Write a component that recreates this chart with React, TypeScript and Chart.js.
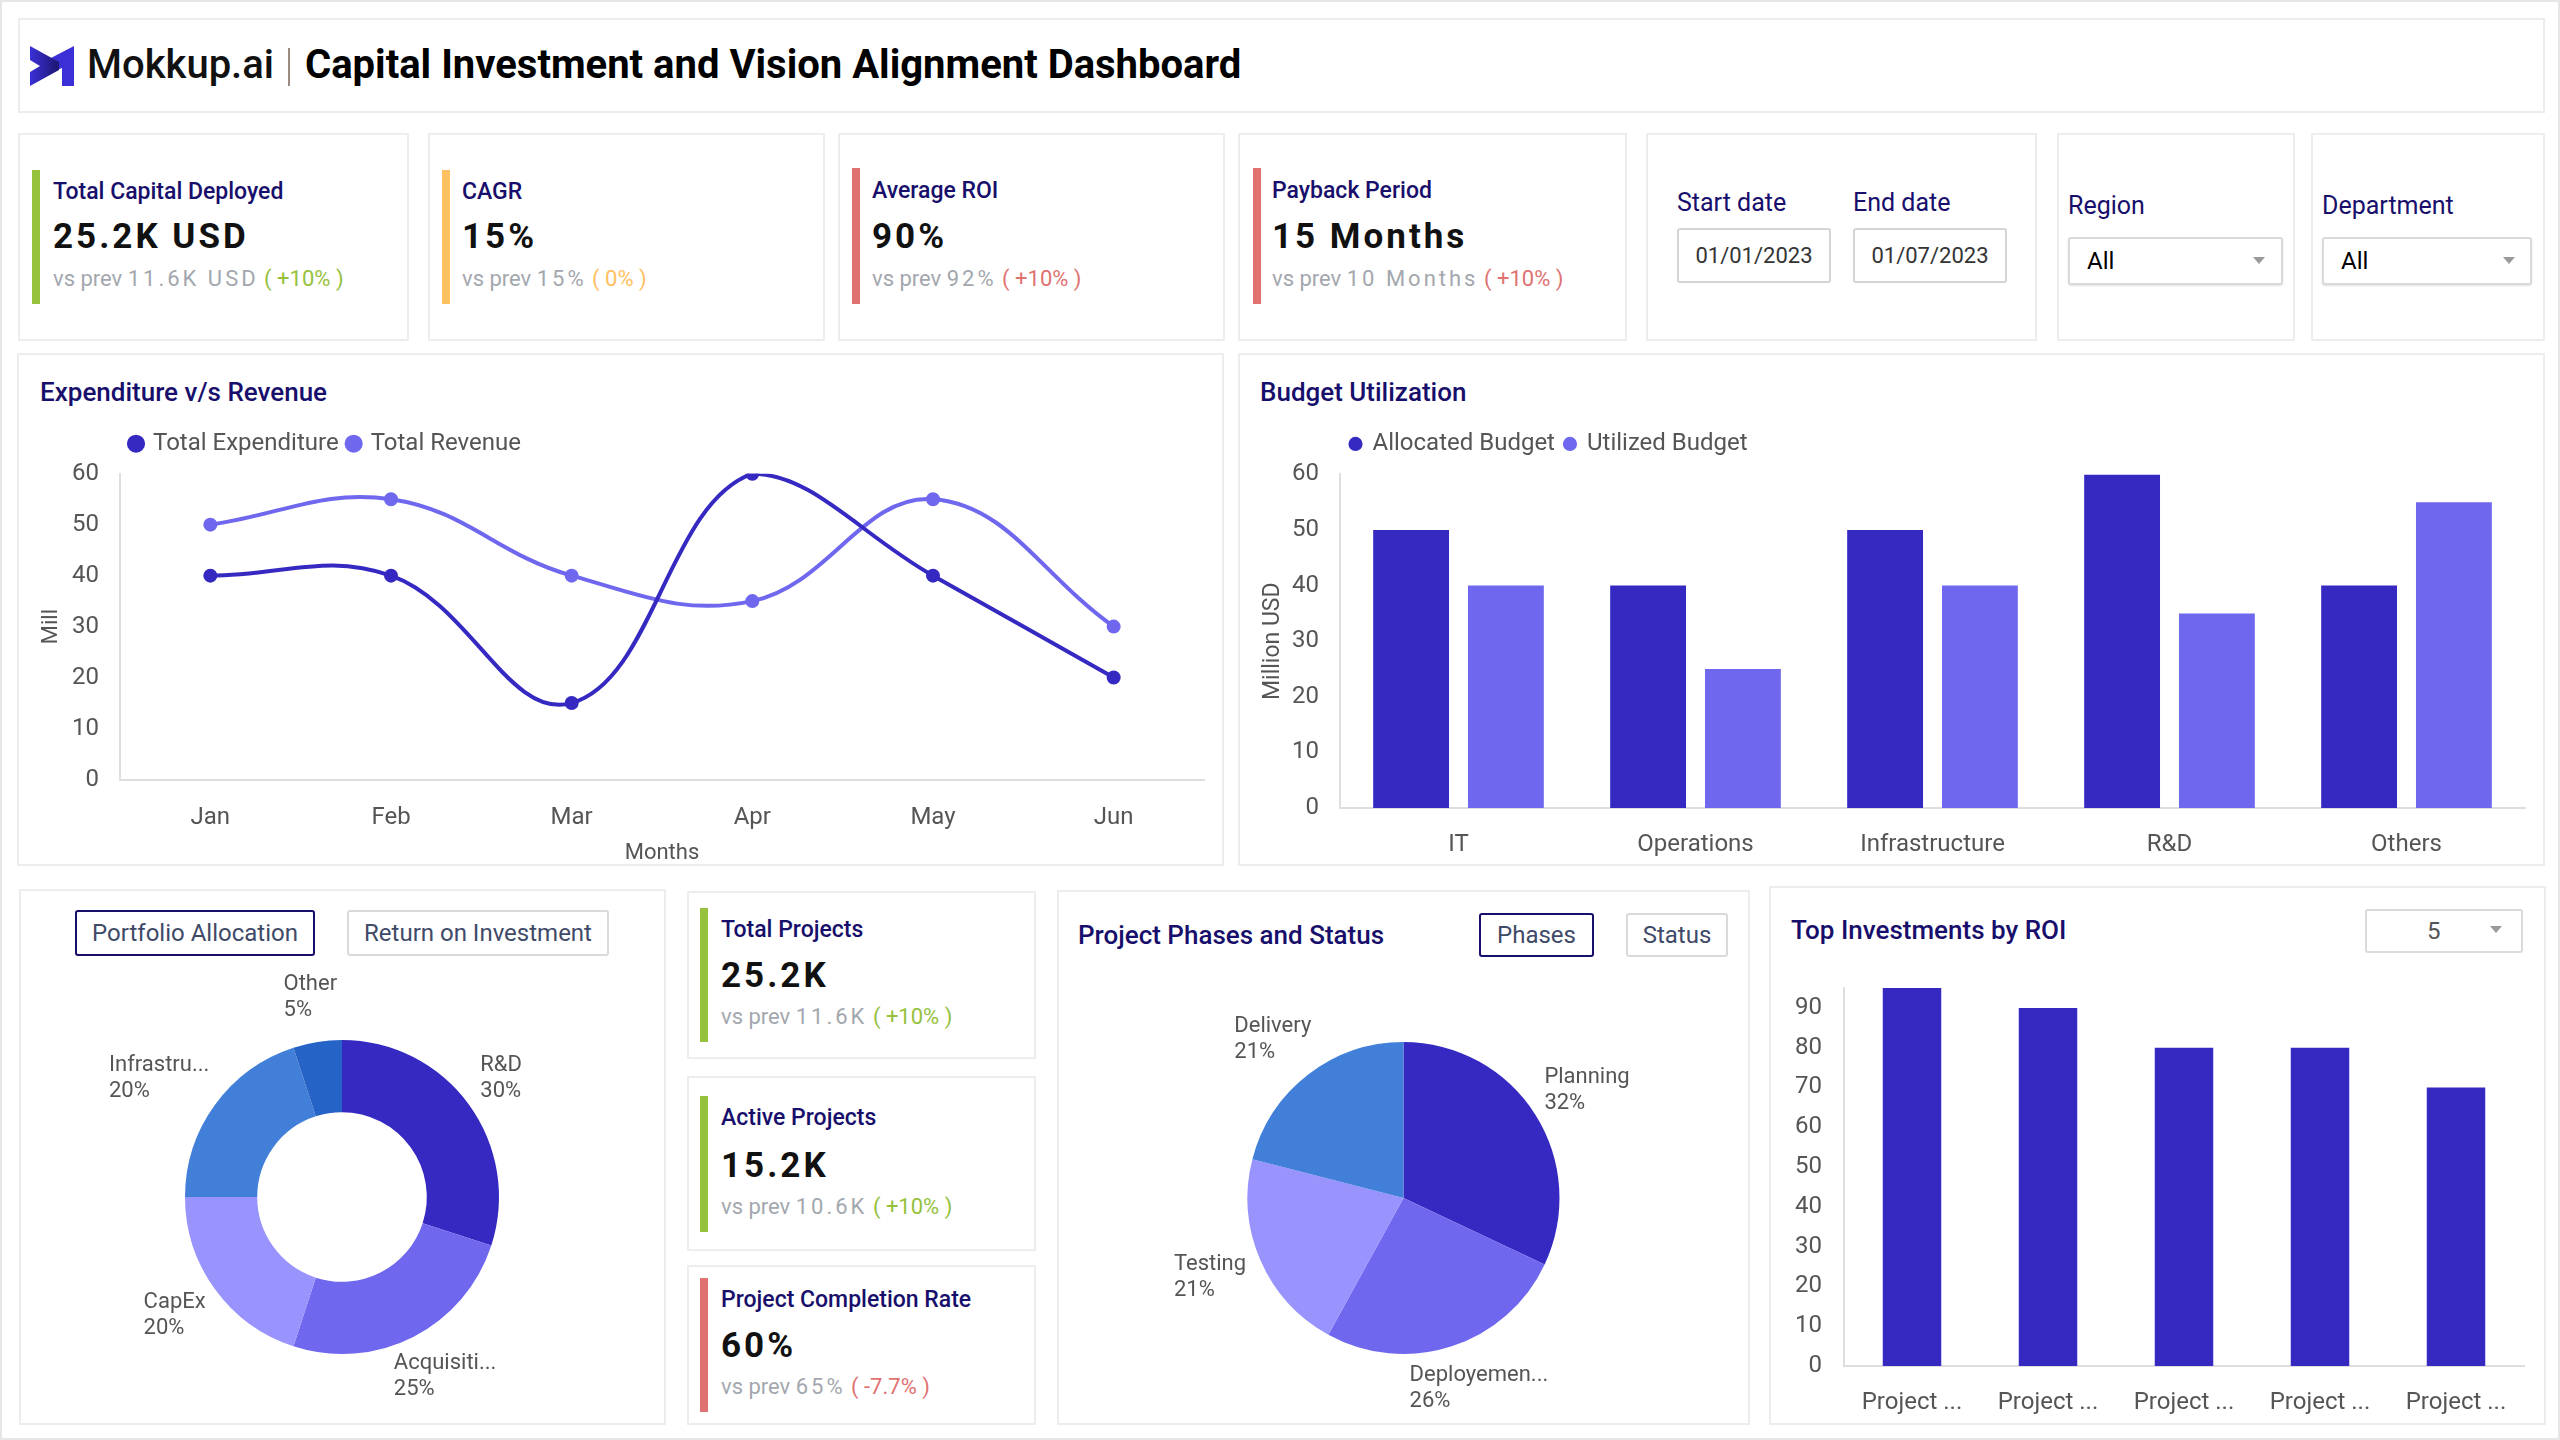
import React, { useEffect, useRef } from 'react';
import { Chart, registerables } from 'chart.js';

Chart.register(...registerables);
Chart.defaults.font.family = 'Roboto';
Chart.defaults.color = '#555555';

// ---------------- data ----------------
const months = ['Jan', 'Feb', 'Mar', 'Apr', 'May', 'Jun'];
const totalExpenditure = [40, 40, 15, 60, 40, 20];
const totalRevenue = [50, 55, 40, 35, 55, 30];

const departments = ['IT', 'Operations', 'Infrastructure', 'R&D', 'Others'];
const allocatedBudget = [50, 40, 50, 60, 40];
const utilizedBudget = [40, 25, 40, 35, 55];

const portfolioLabels = ['R&D', 'Acquisiti...', 'CapEx', 'Infrastru...', 'Other'];
const portfolioShares = [30, 25, 20, 20, 5];

const phaseLabels = ['Planning', 'Deployemen...', 'Testing', 'Delivery'];
const phaseShares = [32, 26, 21, 21];

const projectLabels = ['Project ...', 'Project ...', 'Project ...', 'Project ...', 'Project ...'];
const projectRoi = [95, 90, 80, 80, 70];

// ---------------- style ----------------
const C1 = '#3529C1';
const C2 = '#6F67EE';
const C3 = '#9893FD';
const C4 = '#427FD9';
const C5 = '#2563C6';
const NAVY = '#170F6B';
const GRAY = '#555555';
const AXIS = '#DEDEDE';
const GREEN = '#95C13D';
const ORANGE = '#FFC061';
const RED = '#E07272';
const SUB = '#A3A7AE';

const legendShift = {
  id: 'legendShift',
  afterLayout(chart: any, _args: any, opts: any) {
    const l = chart.legend;
    if (!l || !opts) return;
    const dx = opts.dx || 0;
    const dy = opts.dy || 0;
    l.left += dx;
    l.right += dx;
    l.top -= dy;
    l.bottom -= dy;
  },
};

const outsideLabels = {
  id: 'outsideLabels',
  afterDatasetsDraw(chart: any, _args: any, opts: any) {
    const ctx = chart.ctx;
    const meta = chart.getDatasetMeta(0);
    const data = chart.data.datasets[0].data as number[];
    const total = data.reduce((a: number, b: number) => a + b, 0);
    const lh = opts.lineHeight || 26;
    const f = opts.factor || 1.12;
    ctx.save();
    ctx.font = `${opts.size || 22}px Roboto`;
    ctx.fillStyle = opts.color || GRAY;
    ctx.textBaseline = 'middle';
    ctx.textAlign = 'left';
    meta.data.forEach((arc: any, i: number) => {
      const p = arc.getProps(['x', 'y', 'startAngle', 'endAngle', 'outerRadius'], true);
      const mid = (p.startAngle + p.endAngle) / 2;
      const dx = Math.cos(mid);
      const dy = Math.sin(mid);
      const name = String(chart.data.labels[i]);
      const pct = Math.round((data[i] / total) * 100) + '%';
      const w = Math.max(ctx.measureText(name).width, ctx.measureText(pct).width);
      const px = p.x + dx * p.outerRadius * f;
      const py = p.y + dy * p.outerRadius * f;
      const left = px - (w * (1 - dx)) / 2;
      const top = py - (2 * lh * (1 - dy)) / 2;
      ctx.fillText(name, left, top + lh / 2);
      ctx.fillText(pct, left, top + lh * 1.5);
    });
    ctx.restore();
  },
};

const tickFont = { size: 24 };
const noGrid = { display: false, drawTicks: false };
const axisBorder = { display: true, color: AXIS, width: 2 };
const keepTens = (s: any) => {
  s.ticks = s.ticks.filter((t: any) => t.value % 10 === 0);
};
const fixWidth = (w: number) => (s: any) => {
  s.width = w;
  s.paddingTop = 0;
  s.paddingBottom = 0;
};
const fixHeight = (h: number) => (s: any) => {
  s.height = h;
};

const lineConfig = (): any => ({
  type: 'line',
  data: {
    labels: months,
    datasets: [
      {
        label: 'Total Expenditure',
        data: totalExpenditure,
        borderColor: C1,
        backgroundColor: C1,
        pointBackgroundColor: C1,
        pointBorderColor: C1,
        borderWidth: 4,
        pointRadius: 5,
        tension: 0.4,
      },
      {
        label: 'Total Revenue',
        data: totalRevenue,
        borderColor: C2,
        backgroundColor: C2,
        pointBackgroundColor: C2,
        pointBorderColor: C2,
        borderWidth: 4,
        pointRadius: 5,
        tension: 0.4,
      },
    ],
  },
  options: {
    responsive: false,
    animation: false,
    layout: { padding: { left: 14, right: 20, top: 10.7, bottom: 0 } },
    plugins: {
      legend: {
        position: 'top',
        align: 'start',
        labels: { usePointStyle: true, pointStyle: 'circle', boxWidth: 10, boxHeight: 10, padding: 10, color: GRAY, font: { size: 24 } },
      },
      tooltip: { enabled: false },
      legendShift: { dx: 87, dy: 8 },
    },
    scales: {
      x: {
        offset: true,
        grid: noGrid,
        border: axisBorder,
        ticks: { padding: 24, color: GRAY, font: tickFont },
        title: { display: true, text: 'Months', color: GRAY, font: { size: 22 }, padding: { top: 6, bottom: 2 } },
        afterFit: fixHeight(89.5),
      },
      y: {
        min: 0,
        max: 60,
        grid: noGrid,
        border: axisBorder,
        ticks: { stepSize: 10, padding: 21, color: GRAY, font: tickFont },
        title: { display: true, text: 'Mill', color: GRAY, font: { size: 22 }, padding: { top: 4, bottom: 4 } },
        afterBuildTicks: keepTens,
        afterFit: fixWidth(86),
      },
    },
  },
  plugins: [legendShift],
});

const budgetConfig = (): any => ({
  type: 'bar',
  data: {
    labels: departments,
    datasets: [
      { label: 'Allocated Budget', data: allocatedBudget, backgroundColor: C1, borderWidth: 0, categoryPercentage: 0.8, barPercentage: 0.8 },
      { label: 'Utilized Budget', data: utilizedBudget, backgroundColor: C2, borderWidth: 0, categoryPercentage: 0.8, barPercentage: 0.8 },
    ],
  },
  options: {
    responsive: false,
    animation: false,
    layout: { padding: { left: 14, right: 18, top: 11.4, bottom: 0 } },
    plugins: {
      legend: {
        position: 'top',
        align: 'start',
        labels: { usePointStyle: true, pointStyle: 'circle', boxWidth: 10, boxHeight: 10, padding: 10, color: GRAY, font: { size: 24 } },
      },
      tooltip: { enabled: false },
      legendShift: { dx: 85.5, dy: 8.5 },
    },
    scales: {
      x: {
        grid: noGrid,
        border: axisBorder,
        ticks: { padding: 23, color: GRAY, font: tickFont },
        afterFit: fixHeight(53),
      },
      y: {
        min: 0,
        max: 60,
        grid: noGrid,
        border: axisBorder,
        ticks: { stepSize: 10, padding: 21, color: GRAY, font: tickFont },
        title: { display: true, text: 'Million USD', color: GRAY, font: { size: 23 }, padding: { top: 4, bottom: 4 } },
        afterBuildTicks: keepTens,
        afterFit: fixWidth(85),
      },
    },
  },
  plugins: [legendShift],
});

const roiConfig = (): any => ({
  type: 'bar',
  data: {
    labels: projectLabels,
    datasets: [
      { label: 'ROI', data: projectRoi, backgroundColor: C1, borderWidth: 0, categoryPercentage: 1, barPercentage: 0.43 },
    ],
  },
  options: {
    responsive: false,
    animation: false,
    layout: { padding: { left: 0, right: 20, top: 13, bottom: 0 } },
    plugins: { legend: { display: false }, tooltip: { enabled: false } },
    scales: {
      x: {
        grid: noGrid,
        border: axisBorder,
        ticks: { padding: 23, color: GRAY, font: tickFont, autoSkip: false, maxRotation: 0 },
        afterFit: fixHeight(53),
      },
      y: {
        min: 0,
        max: 95,
        grid: noGrid,
        border: axisBorder,
        ticks: { stepSize: 10, padding: 22, color: GRAY, font: tickFont, includeBounds: false },
        afterBuildTicks: keepTens,
        afterFit: fixWidth(74),
      },
    },
  },
});

const donutConfig = (): any => ({
  type: 'doughnut',
  data: {
    labels: portfolioLabels,
    datasets: [{ data: portfolioShares, backgroundColor: [C1, C2, C3, C4, C5], borderWidth: 0 }],
  },
  options: {
    responsive: false,
    animation: false,
    radius: 157,
    cutout: '54%',
    plugins: {
      legend: { display: false },
      tooltip: { enabled: false },
      outsideLabels: { size: 22, lineHeight: 26, color: GRAY, factor: 1.12 },
    },
  },
  plugins: [outsideLabels],
});

const pieConfig = (): any => ({
  type: 'pie',
  data: {
    labels: phaseLabels,
    datasets: [{ data: phaseShares, backgroundColor: [C1, C2, C3, C4], borderWidth: 0 }],
  },
  options: {
    responsive: false,
    animation: false,
    radius: 156,
    plugins: {
      legend: { display: false },
      tooltip: { enabled: false },
      outsideLabels: { size: 22, lineHeight: 26, color: GRAY, factor: 1.12 },
    },
  },
  plugins: [outsideLabels],
});

// ---------------- components ----------------
function ChartBox(props: { left: number; top: number; width: number; height: number; config: () => any }) {
  const ref = useRef<HTMLCanvasElement>(null);
  useEffect(() => {
    const chart = new Chart(ref.current as HTMLCanvasElement, props.config());
    return () => chart.destroy();
  }, []);
  return (
    <canvas
      ref={ref}
      width={props.width}
      height={props.height}
      style={{ position: 'absolute', left: props.left, top: props.top, width: props.width, height: props.height }}
    />
  );
}

function Card(props: { x: number; y: number; w: number; h: number }) {
  return (
    <div
      style={{
        position: 'absolute',
        left: props.x,
        top: props.y,
        width: props.w,
        height: props.h,
        border: '2px solid #EDEDED',
        boxSizing: 'border-box',
        background: '#fff',
      }}
    />
  );
}

function Txt(props: {
  x: number;
  cy: number;
  size: number;
  weight?: number;
  color?: string;
  ls?: number;
  children: any;
}) {
  const lh = Math.round(props.size * 1.2);
  return (
    <div
      style={{
        position: 'absolute',
        left: props.x,
        top: props.cy - lh / 2,
        fontSize: props.size,
        lineHeight: lh + 'px',
        fontWeight: props.weight || 400,
        color: props.color || '#111',
        letterSpacing: props.ls || 0,
        whiteSpace: 'nowrap',
      }}
    >
      {props.children}
    </div>
  );
}

function Bar(props: { x: number; y: number; h: number; color: string }) {
  return <div style={{ position: 'absolute', left: props.x, top: props.y, width: 8, height: props.h, background: props.color }} />;
}

function Sub(props: { x: number; cy: number; prev: string; delta: string; color: string }) {
  return (
    <Txt x={props.x} cy={props.cy} size={22} color={SUB}>
      vs prev <span style={{ letterSpacing: 3 }}>{props.prev}</span>{' '}
      <span style={{ color: props.color }}>( {props.delta} )</span>
    </Txt>
  );
}

function Kpi(props: {
  x: number; y: number; w: number; h: number;
  barX: number; barY: number; barH: number; color: string;
  tx: number; tY: number; vY: number; sY: number;
  title: string; value: string; prev: string; delta: string;
}) {
  return (
    <>
      <Card x={props.x} y={props.y} w={props.w} h={props.h} />
      <Bar x={props.barX} y={props.barY} h={props.barH} color={props.color} />
      <Txt x={props.tx} cy={props.tY} size={23} weight={500} color={NAVY}>{props.title}</Txt>
      <Txt x={props.tx} cy={props.vY} size={35} weight={700} color="#111" ls={3}>{props.value}</Txt>
      <Sub x={props.tx} cy={props.sY} prev={props.prev} delta={props.delta} color={props.color} />
    </>
  );
}

function Box(props: { x: number; y: number; w: number; h: number; color?: string; shadow?: boolean; children?: any }) {
  return (
    <div
      style={{
        position: 'absolute',
        left: props.x,
        top: props.y,
        width: props.w,
        height: props.h,
        boxSizing: 'border-box',
        border: `2px solid ${props.color || '#DADADA'}`,
        borderRadius: 3,
        background: '#fff',
        boxShadow: props.shadow ? '0 1px 2px rgba(0,0,0,0.12)' : undefined,
      }}
    >
      {props.children}
    </div>
  );
}

function Button(props: { x: number; y: number; w: number; h: number; active?: boolean; label: string }) {
  return (
    <Box x={props.x} y={props.y} w={props.w} h={props.h} color={props.active ? NAVY : '#DADADA'}>
      <div
        style={{
          width: '100%',
          height: '100%',
          display: 'flex',
          alignItems: 'center',
          justifyContent: 'center',
          fontSize: 24,
          color: '#3F4A68',
          whiteSpace: 'nowrap',
        }}
      >
        {props.label}
      </div>
    </Box>
  );
}

function Arrow(props: { x: number; y: number }) {
  return (
    <div
      style={{
        position: 'absolute',
        left: props.x - 6,
        top: props.y - 3,
        width: 0,
        height: 0,
        borderLeft: '6px solid transparent',
        borderRight: '6px solid transparent',
        borderTop: '7px solid #9A9A9A',
      }}
    />
  );
}

export default function App() {
  return (
    <div
      style={{
        position: 'absolute',
        left: 0,
        top: 0,
        width: 2560,
        height: 1440,
        background: '#fff',
        border: '2px solid #E6E6E6',
        boxSizing: 'border-box',
        fontFamily: 'Roboto, sans-serif',
        overflow: 'hidden',
      }}
    >
      <div style={{ position: 'absolute', left: -2, top: -2, width: 2560, height: 1440 }}>
        {/* header */}
        <Card x={18} y={18} w={2527} h={95} />
        <svg style={{ position: 'absolute', left: 30, top: 46 }} width={44} height={40} viewBox="0 0 44 40">
          <defs>
            <linearGradient id="lg" x1="0" y1="0" x2="1" y2="0">
              <stop offset="0" stopColor="#3B30D6" />
              <stop offset="1" stopColor="#1C1670" />
            </linearGradient>
          </defs>
          <path d="M19 13 L44 0 L44 40 L32 40 L32 22 L19 27 Z" fill="#3B30D6" />
          <path d="M0 0 L29 16 L29 24 L0 40 L0 26 L10 20 L0 14 Z" fill="url(#lg)" />
        </svg>
        <Txt x={87} cy={65} size={40} weight={500} color="#111">Mokkup.ai</Txt>
        <div style={{ position: 'absolute', left: 288, top: 48, width: 2, height: 38, background: '#9B8A80' }} />
        <Txt x={305} cy={65} size={40} weight={700} color="#000">Capital Investment and Vision Alignment Dashboard</Txt>

        {/* top KPI cards */}
        <Kpi x={18} y={133} w={391} h={208} barX={32} barY={170} barH={134} color={GREEN} tx={53} tY={192} vY={237} sY={279}
          title="Total Capital Deployed" value="25.2K USD" prev="11.6K USD" delta="+10%" />
        <Kpi x={428} y={133} w={397} h={208} barX={442} barY={170} barH={134} color={ORANGE} tx={462} tY={192} vY={237} sY={279}
          title="CAGR" value="15%" prev="15%" delta="0%" />
        <Kpi x={838} y={133} w={387} h={208} barX={852} barY={168} barH={136} color={RED} tx={872} tY={191} vY={237} sY={279}
          title="Average ROI" value="90%" prev="92%" delta="+10%" />
        <Kpi x={1238} y={133} w={389} h={208} barX={1253} barY={168} barH={136} color={RED} tx={1272} tY={191} vY={237} sY={279}
          title="Payback Period" value="15 Months" prev="10 Months" delta="+10%" />

        {/* date card */}
        <Card x={1646} y={133} w={391} h={208} />
        <Txt x={1677} cy={203} size={25} color={NAVY}>Start date</Txt>
        <Txt x={1853} cy={203} size={25} color={NAVY}>End date</Txt>
        <Box x={1677} y={228} w={154} h={55} color="#D4D4D4">
          <div style={{ height: '100%', display: 'flex', alignItems: 'center', justifyContent: 'center', fontSize: 22, color: '#333' }}>01/01/2023</div>
        </Box>
        <Box x={1853} y={228} w={154} h={55} color="#D4D4D4">
          <div style={{ height: '100%', display: 'flex', alignItems: 'center', justifyContent: 'center', fontSize: 22, color: '#333' }}>01/07/2023</div>
        </Box>

        {/* region */}
        <Card x={2057} y={133} w={238} h={208} />
        <Txt x={2068} cy={206} size={25} color={NAVY}>Region</Txt>
        <Box x={2068} y={237} w={215} h={48} shadow />
        <Txt x={2087} cy={261} size={24} color="#000">All</Txt>
        <Arrow x={2259} y={260} />

        {/* department */}
        <Card x={2311} y={133} w={234} h={208} />
        <Txt x={2322} cy={206} size={25} color={NAVY}>Department</Txt>
        <Box x={2322} y={237} w={210} h={48} shadow />
        <Txt x={2341} cy={261} size={24} color="#000">All</Txt>
        <Arrow x={2509} y={260} />

        {/* middle row */}
        <Card x={17} y={353} w={1207} h={513} />
        <Txt x={40} cy={392} size={26} weight={500} color={NAVY}>Expenditure v/s Revenue</Txt>
        <Card x={1238} y={353} w={1307} h={513} />
        <Txt x={1260} cy={392} size={26} weight={500} color={NAVY}>Budget Utilization</Txt>

        {/* bottom row */}
        <Card x={19} y={889} w={647} h={536} />
        <Button x={75} y={910} w={240} h={46} active label="Portfolio Allocation" />
        <Button x={347} y={910} w={262} h={46} label="Return on Investment" />

        <Kpi x={687} y={891} w={349} h={168} barX={700} barY={908} barH={134} color={GREEN} tx={721} tY={930} vY={976} sY={1017}
          title="Total Projects" value="25.2K" prev="11.6K" delta="+10%" />
        <Kpi x={687} y={1076} w={349} h={175} barX={700} barY={1096} barH={136} color={GREEN} tx={721} tY={1118} vY={1166} sY={1207}
          title="Active Projects" value="15.2K" prev="10.6K" delta="+10%" />
        <Kpi x={687} y={1265} w={349} h={160} barX={700} barY={1278} barH={134} color={RED} tx={721} tY={1300} vY={1346} sY={1387}
          title="Project Completion Rate" value="60%" prev="65%" delta="-7.7%" />

        <Card x={1057} y={890} w={693} h={535} />
        <Txt x={1078} cy={935} size={26} weight={500} color={NAVY}>Project Phases and Status</Txt>
        <Button x={1479} y={913} w={115} h={44} active label="Phases" />
        <Button x={1626} y={913} w={102} h={44} label="Status" />

        <Card x={1769} y={886} w={777} h={539} />
        <Txt x={1791} cy={930} size={26} weight={500} color={NAVY}>Top Investments by ROI</Txt>
        <Box x={2365} y={909} w={158} h={44} />
        <Txt x={2427} cy={931} size={24} color={GRAY}>5</Txt>
        <Arrow x={2496} y={929} />

        {/* charts */}
        <ChartBox left={20} top={419} width={1204} height={450} config={lineConfig} />
        <ChartBox left={1241} top={419} width={1302} height={442} config={budgetConfig} />
        <ChartBox left={1770} top={975} width={774} height={444} config={roiConfig} />
        <ChartBox left={42} top={962} width={600} height={470} config={donutConfig} />
        <ChartBox left={1083} top={963} width={641} height={470} config={pieConfig} />
      </div>
    </div>
  );
}
